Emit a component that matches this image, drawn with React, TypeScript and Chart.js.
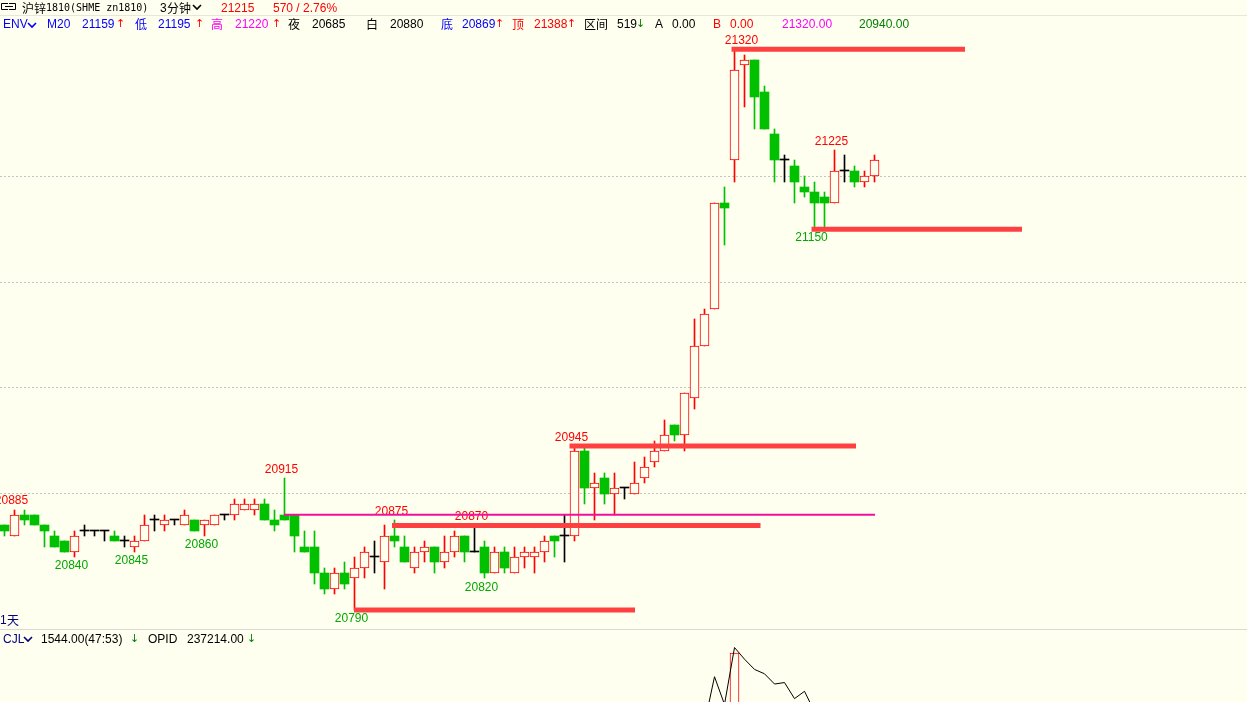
import React, { useEffect, useRef } from "react";
import { Chart, registerables } from "chart.js";

Chart.register(...registerables);

const BG = "#fffff0";
const UP = "#ff0000";
const DOWN = "#00c000";
const FLAT = "#000000";
const LEVEL_RED = "#ff4040";
const DAY_OPEN_COLOR = "#f0109c";
const SANS = "'Liberation Sans', Arial, sans-serif";
const CJK = "'Noto Sans CJK SC', sans-serif";
const MONO = "'DejaVu Sans Mono', monospace";

// 3-minute candles, zn1810
const opens = [
  20870, 20860, 20880, 20880, 20870, 20860, 20855, 20845, 20865, 20865,
  20865, 20860, 20855, 20850, 20855, 20875, 20870, 20875, 20870, 20875,
  20870, 20870, 20880, 20880, 20885, 20885, 20890, 20875, 20880, 20880,
  20850, 20850, 20825, 20810, 20825, 20820, 20830, 20840, 20835, 20860,
  20850, 20830, 20845, 20850, 20835, 20845, 20860, 20845, 20850, 20825,
  20845, 20825, 20840, 20840, 20845, 20860, 20860, 20860, 20940, 20905,
  20915, 20900, 20905, 20900, 20915, 20930, 20940, 20965, 20955, 20990,
  21040, 21075, 21175, 21215, 21305, 21310, 21280, 21240, 21215, 21210,
  21190, 21185, 21180, 21175, 21205, 21205, 21195, 21200,
];
const highs = [
  20870, 20885, 20885, 20880, 20870, 20865, 20855, 20865, 20870, 20865,
  20865, 20865, 20860, 20860, 20880, 20880, 20880, 20875, 20885, 20875,
  20875, 20880, 20880, 20895, 20895, 20895, 20895, 20885, 20915, 20880,
  20865, 20865, 20830, 20830, 20835, 20840, 20850, 20855, 20870, 20875,
  20860, 20850, 20855, 20850, 20860, 20865, 20860, 20870, 20855, 20850,
  20850, 20850, 20850, 20850, 20860, 20860, 20880, 20945, 20945, 20920,
  20920, 20920, 20905, 20930, 20935, 20950, 20970, 20965, 20995, 21065,
  21075, 21175, 21190, 21320, 21315, 21310, 21285, 21245, 21220, 21215,
  21200, 21195, 21185, 21225, 21220, 21210, 21205, 21220,
];
const lows = [
  20860, 20860, 20870, 20870, 20850, 20850, 20845, 20840, 20860, 20860,
  20855, 20855, 20850, 20845, 20855, 20865, 20865, 20870, 20870, 20865,
  20860, 20870, 20875, 20875, 20885, 20880, 20875, 20865, 20875, 20845,
  20845, 20815, 20805, 20805, 20810, 20790, 20820, 20825, 20810, 20850,
  20835, 20825, 20835, 20825, 20830, 20840, 20835, 20845, 20820, 20825,
  20825, 20825, 20830, 20825, 20835, 20840, 20835, 20855, 20890, 20875,
  20890, 20880, 20895, 20900, 20910, 20925, 20940, 20950, 20940, 20980,
  21040, 21075, 21135, 21195, 21265, 21245, 21245, 21195, 21195, 21175,
  21180, 21150, 21150, 21175, 21195, 21190, 21190, 21195,
];
const closes = [
  20865, 20880, 20875, 20870, 20865, 20850, 20845, 20860, 20865, 20865,
  20865, 20855, 20855, 20855, 20870, 20875, 20875, 20875, 20880, 20865,
  20875, 20880, 20880, 20890, 20890, 20890, 20875, 20870, 20875, 20860,
  20845, 20825, 20810, 20825, 20815, 20830, 20845, 20840, 20860, 20855,
  20835, 20845, 20850, 20835, 20845, 20860, 20845, 20845, 20825, 20845,
  20830, 20840, 20845, 20845, 20855, 20855, 20860, 20940, 20905, 20910,
  20900, 20905, 20905, 20910, 20925, 20940, 20955, 20955, 20995, 21040,
  21070, 21175, 21170, 21300, 21310, 21275, 21245, 21215, 21215, 21195,
  21185, 21175, 21175, 21205, 21205, 21195, 21200, 21215,
];

// dotted price grid
const gridPrices = [21200, 21100, 21000, 20900];

// drawn support / resistance levels (price, from candle, to candle)
const levelPrices = [21320, 21150, 20945, 20870, 20790];
const levelFrom = [72.7, 80.7, 56.5, 38.75, 34.95];
const levelTo = [96.05, 101.75, 85.15, 75.6, 63.05];
const dayOpenPrice = 20880;
const dayOpenFrom = 27.95;
const dayOpenTo = 87.05;

// swing high / low labels
const peakIdx = [1, 28, 39, 47, 57, 74, 83];
const peakVals = [20885, 20915, 20875, 20870, 20945, 21320, 21225];
const troughIdx = [7, 13, 20, 35, 48, 81];
const troughVals = [20840, 20845, 20860, 20790, 20820, 21150];

// lower panel (visible part only), panel units
const volIdx = [73];
const volVals = [84.2];
const opidIdx = [70, 71, 72, 73, 74, 75, 76, 77, 78, 79, 80, 81];
const opidVals = [36, 68, 49, 88, 80, 73, 70, 63, 64, 53, 58, 44];

// visible windows
const PRICE_MIN = 20772.1;
const PRICE_MAX = 21366.6;
const X_MIN = -0.45;
const X_MAX = 124.25;
const PANEL_MIN = 0;
const PANEL_MAX = 100;

const ids = opens.map((_, i) => i);
const candleColor = (i: number) =>
  closes[i] > opens[i] ? UP : closes[i] < opens[i] ? DOWN : FLAT;

// snap bar edges to whole pixels so 1px borders stay crisp
const snapPlugin = {
  id: "snapBars",
  beforeDatasetsDraw(chart: any) {
    chart.data.datasets.forEach((_: any, i: number) => {
      const meta = chart.getDatasetMeta(i);
      if (meta.type !== "bar") return;
      meta.data.forEach((el: any) => {
        el.y = Math.round(el.y);
        el.base = Math.round(el.base);
      });
    });
  },
};

const labelPlugin = {
  id: "extremeLabels",
  beforeDatasetsDraw(chart: any) {
    const { ctx, scales } = chart;
    const x = scales.x;
    const y = scales.y;
    ctx.save();
    ctx.font = "12px 'Liberation Sans'";
    ctx.textAlign = "center";
    ctx.textBaseline = "middle";
    ctx.fillStyle = "#ff0000";
    peakIdx.forEach((k, j) => {
      ctx.fillText(String(peakVals[j]), x.getPixelForValue(k) - 3, y.getPixelForValue(peakVals[j]) - 8.5);
    });
    ctx.fillStyle = "#00a800";
    troughIdx.forEach((k, j) => {
      ctx.fillText(String(troughVals[j]), x.getPixelForValue(k) - 3, y.getPixelForValue(troughVals[j]) + 9);
    });
    ctx.restore();
  },
};

function MainChart() {
  const ref = useRef<HTMLCanvasElement>(null);
  useEffect(() => {
    const levelSets = levelPrices.map((p, j) => ({
      type: "line",
      data: [
        { x: levelFrom[j], y: p },
        { x: levelTo[j], y: p },
      ],
      borderColor: LEVEL_RED,
      borderWidth: 5,
      borderCapStyle: "butt",
      pointRadius: 0,
      order: 0,
    }));
    const chart = new Chart(ref.current as HTMLCanvasElement, {
      type: "bar",
      data: {
        datasets: [
          {
            type: "bar",
            data: ids.map((i) => ({ x: i, y: [lows[i], highs[i]] })),
            backgroundColor: ids.map(candleColor),
            borderWidth: 0,
            barThickness: 1,
            grouped: false,
            order: 3,
          },
          {
            type: "bar",
            data: ids.map((i) => ({ x: i, y: [opens[i], closes[i]] })),
            backgroundColor: ids.map((i) => (closes[i] > opens[i] ? BG : candleColor(i))),
            borderColor: ids.map(candleColor),
            borderWidth: ids.map((i) => (closes[i] > opens[i] ? 1 : 0)),
            borderSkipped: false,
            barThickness: 9,
            minBarLength: 1,
            grouped: false,
            order: 2,
          },
          {
            type: "line",
            data: [
              { x: dayOpenFrom, y: dayOpenPrice },
              { x: dayOpenTo, y: dayOpenPrice },
            ],
            borderColor: DAY_OPEN_COLOR,
            borderWidth: 2,
            pointRadius: 0,
            order: 1,
          },
          ...levelSets,
        ] as any,
      },
      options: {
        animation: false,
        responsive: false,
        devicePixelRatio: 1,
        events: [],
        layout: { padding: 0 },
        plugins: { legend: { display: false }, tooltip: { enabled: false } },
        scales: {
          x: { type: "linear", min: X_MIN, max: X_MAX, display: false, offset: false },
          y: {
            type: "linear",
            position: "left",
            min: PRICE_MIN,
            max: PRICE_MAX,
            afterBuildTicks: (s: any) => {
              s.ticks = gridPrices.map((v) => ({ value: v }));
            },
            afterFit: (s: any) => {
              s.width = 0;
            },
            ticks: { display: false },
            grid: { color: "#c4c4c4", lineWidth: 1, drawTicks: false },
            border: { display: false, dash: [2, 2] },
          },
        },
      } as any,
      plugins: [snapPlugin, labelPlugin],
    });
    return () => chart.destroy();
  }, []);
  return (
    <canvas
      ref={ref}
      width={1247}
      height={629}
      style={{ position: "absolute", left: 0, top: 0, width: 1247, height: 629 }}
    />
  );
}

function PanelChart() {
  const ref = useRef<HTMLCanvasElement>(null);
  useEffect(() => {
    const chart = new Chart(ref.current as HTMLCanvasElement, {
      type: "bar",
      data: {
        datasets: [
          {
            type: "bar",
            data: volIdx.map((k, j) => ({ x: k, y: volVals[j] })),
            backgroundColor: BG,
            borderColor: UP,
            borderWidth: 1,
            borderSkipped: false,
            barThickness: 9,
            grouped: false,
            order: 2,
          },
          {
            type: "line",
            data: opidIdx.map((k, j) => ({ x: k, y: opidVals[j] })),
            borderColor: "#000000",
            borderWidth: 1,
            pointRadius: 0,
            order: 1,
          },
        ] as any,
      },
      options: {
        animation: false,
        responsive: false,
        devicePixelRatio: 1,
        events: [],
        layout: { padding: 0 },
        plugins: { legend: { display: false }, tooltip: { enabled: false } },
        scales: {
          x: { type: "linear", min: X_MIN, max: X_MAX, display: false, offset: false },
          y: { type: "linear", min: PANEL_MIN, max: PANEL_MAX, display: false },
        },
      } as any,
      plugins: [snapPlugin],
    });
    return () => chart.destroy();
  }, []);
  return (
    <canvas
      ref={ref}
      width={1247}
      height={146}
      style={{ position: "absolute", left: 0, top: 630, width: 1247, height: 146 }}
    />
  );
}

const T = ({ x, y, c = "#000", f = SANS, s = 12, children }: any) => (
  <span
    style={{
      position: "absolute",
      left: x,
      top: y,
      color: c,
      fontFamily: f,
      fontSize: s,
      lineHeight: "14px",
      whiteSpace: "pre",
    }}
  >
    {children}
  </span>
);

const Chevron = ({ x, y, c }: any) => (
  <svg width={11} height={7} style={{ position: "absolute", left: x, top: y }}>
    <polyline points="1,1 5,5 9,1" fill="none" stroke={c} strokeWidth={1.6} />
  </svg>
);

const Up = ({ x, y }: any) => (
  <T x={x} y={y} c="#ff0000" f="'DejaVu Sans'" s={11}>
    ↑
  </T>
);
const Down = ({ x, y }: any) => (
  <T x={x} y={y} c="#008000" f="'DejaVu Sans'" s={11}>
    ↓
  </T>
);

export default function App() {
  const r1 = 1;
  const r2 = 17;
  return (
    <div
      style={{
        position: "fixed",
        left: 0,
        top: 0,
        width: 1247,
        height: 702,
        overflow: "hidden",
        background: BG,
      }}
    >
      <MainChart />
      <PanelChart />
      {/* separators */}
      <div style={{ position: "absolute", left: 0, top: 15, width: 1247, height: 1, background: "#e6e6dc" }} />
      <div style={{ position: "absolute", left: 0, top: 629, width: 1247, height: 1, background: "#d8d8d4" }} />

      {/* row 1 */}
      <svg width={18} height={12} style={{ position: "absolute", left: 0, top: 1 }}>
        <polyline points="8,2.5 1.5,2.5 1.5,8.5 8,8.5" fill="none" stroke="#000" strokeWidth={1} />
        <polyline points="9,2.5 15.5,2.5 15.5,8.5 9,8.5" fill="none" stroke="#000" strokeWidth={1} />
        <line x1={5} y1={5.5} x2={13} y2={5.5} stroke="#000" strokeWidth={1} />
      </svg>
      <T x={22} y={r1} f={CJK}>沪锌</T>
      <T x={46} y={r1} f={MONO} s={10}>1810(SHME zn1810)</T>
      <T x={160} y={r1}>3</T>
      <T x={167} y={r1} f={CJK}>分钟</T>
      <Chevron x={192} y={4} c="#000" />
      <T x={221} y={r1} c="#ff0000">21215</T>
      <T x={273} y={r1} c="#ff0000">570 / 2.76%</T>

      {/* row 2 */}
      <T x={3} y={r2} c="#0000ff">ENV</T>
      <Chevron x={27} y={22} c="#0000ff" />
      <T x={47} y={r2} c="#0000ff">M20</T>
      <T x={82} y={r2} c="#0000ff">21159</T>
      <Up x={116} y={r2} />
      <T x={135} y={r2} c="#0000ff" f={CJK}>低</T>
      <T x={158} y={r2} c="#0000ff">21195</T>
      <Up x={195} y={r2} />
      <T x={211} y={r2} c="#ff00ff" f={CJK}>高</T>
      <T x={235} y={r2} c="#ff00ff">21220</T>
      <Up x={272} y={r2} />
      <T x={288} y={r2} f={CJK}>夜</T>
      <T x={312} y={r2}>20685</T>
      <T x={366} y={r2} f={CJK}>白</T>
      <T x={390} y={r2}>20880</T>
      <T x={441} y={r2} c="#0000ff" f={CJK}>底</T>
      <T x={462} y={r2} c="#0000ff">20869</T>
      <Up x={495} y={r2} />
      <T x={512} y={r2} c="#ff0000" f={CJK}>顶</T>
      <T x={534} y={r2} c="#ff0000">21388</T>
      <Up x={567} y={r2} />
      <T x={584} y={r2} f={CJK}>区间</T>
      <T x={617} y={r2}>519</T>
      <Down x={636} y={r2} />
      <T x={655} y={r2}>A</T>
      <T x={672} y={r2}>0.00</T>
      <T x={713} y={r2} c="#ff0000">B</T>
      <T x={730} y={r2} c="#ff0000">0.00</T>
      <T x={782} y={r2} c="#ff00ff">21320.00</T>
      <T x={859} y={r2} c="#008000">20940.00</T>

      {/* bottom left of main panel */}
      <T x={0} y={613} c="#000080">1</T>
      <T x={7} y={613} c="#000080" f={CJK}>天</T>

      {/* lower panel header */}
      <T x={3} y={632} c="#000080">CJL</T>
      <Chevron x={23} y={636} c="#000080" />
      <T x={41} y={632}>1544.00(47:53)</T>
      <Down x={130} y={632} />
      <T x={148} y={632}>OPID</T>
      <T x={187} y={632}>237214.00</T>
      <Down x={247} y={632} />
    </div>
  );
}
